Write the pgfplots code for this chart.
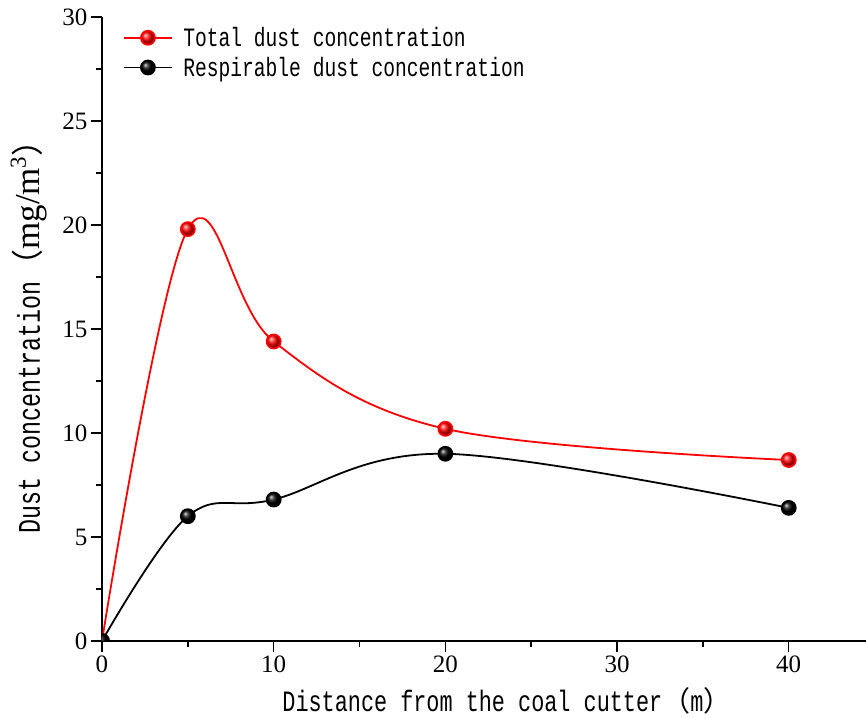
\documentclass[border=0pt]{standalone}
\usepackage{fontspec}
\setmainfont{Liberation Serif}
\newfontfamily\monofont[FakeStretch=0.74]{Liberation Mono}
\newfontfamily\cjk{Noto Sans CJK SC}
\usepackage{pgfplots}
\pgfplotsset{compat=1.18}
\begin{document}
\begin{tikzpicture}
\begin{axis}[
  scale only axis, width=764pt, height=624pt,
  xmin=0, xmax=44.5, ymin=0, ymax=30,
  axis x line=bottom, axis y line=left,
  axis line style={-, line width=1.5pt},
  tick align=outside,
  major tick length=11pt, minor tick length=6pt,
  every tick/.style={black, line width=1.5pt},
  xtick={0,10,20,30,40}, ytick={0,5,...,30},
  minor x tick num=1, minor y tick num=1,
  /pgf/number format/assume math mode=true,
  ticklabel style={font=\fontsize{25}{25}\selectfont},
  clip mode=individual, clip marker paths=true,
  xlabel={\monofont\fontsize{29.5}{29.5}\selectfont Distance from the coal cutter{\cjk\fontsize{28}{28}\selectfont （}m{\cjk\fontsize{28}{28}\selectfont ）}},
  xlabel style={at={(axis description cs:0.53,0)}, anchor=base, yshift=-71pt},
  ylabel={\monofont\fontsize{31.5}{31.5}\selectfont Dust concentration{\cjk\fontsize{32}{32}\selectfont （}{\rmfamily\fontsize{35}{35}\selectfont mg/m\raisebox{14pt}{\fontsize{23}{23}\selectfont 3}}{\cjk\fontsize{32}{32}\selectfont ）}},
  ylabel style={at={(axis description cs:-0.0955,0.50)}, anchor=center},
  legend style={draw=none, fill=none, at={(axis description cs:0.024,0.99)}, anchor=north west,
    font=\monofont\fontsize{26.5}{31}\selectfont, row sep=5pt},
  legend cell align=left,
  legend image code/.code={\draw[mark repeat=2,mark phase=2] plot coordinates {(0pt,0pt) (23.5pt,0pt) (47pt,0pt)}; \path (0pt,0pt) (56pt,0pt);},
]
\addplot[red, line width=1.8pt, smooth, tension=0.6, mark=ball, mark size=7pt, mark options={ball color=red}]
  coordinates {(0,0) (5,19.8) (10,14.4) (20,10.2) (40,8.7)};
\addlegendentry{Total dust concentration}
\addplot[black, line width=1.8pt, smooth, tension=0.6, mark=ball, mark size=7pt, mark options={ball color=black}]
  coordinates {(0,0) (5,6.0) (10,6.8) (20,9.0) (40,6.4)};
\addlegendentry{Respirable dust concentration}
\coordinate (ll) at (rel axis cs:0,0);
\coordinate (ur) at (rel axis cs:1,1);
\end{axis}
\pgfresetboundingbox
\useasboundingbox ([shift={(-102pt,-77pt)}]ll) rectangle ([yshift=17pt]ur);
\end{tikzpicture}
\end{document}
